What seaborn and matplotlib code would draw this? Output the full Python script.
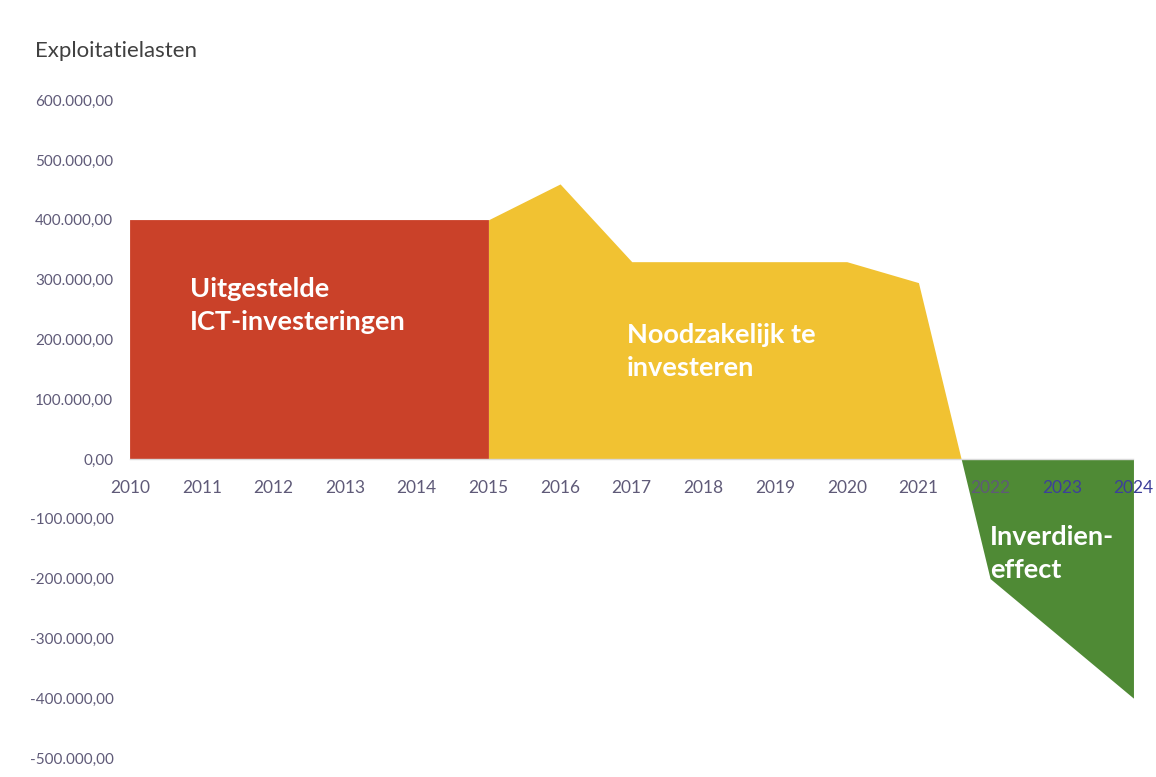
import numpy as np
import seaborn as sns
import matplotlib
import matplotlib.pyplot as plt
from matplotlib.ticker import FuncFormatter, MultipleLocator
matplotlib.use('Agg')

# data
years = [2010, 2011, 2012, 2013, 2014, 2015, 2016, 2017, 2018, 2019, 2020, 2021, 2022, 2023, 2024]
lasten = [400000, 400000, 400000, 400000, 400000, 400000, 460000, 330000, 330000, 330000, 330000, 295000,
          -200000, -300000, -400000]
split_year = 2015
labels = ['Uitgestelde\nICT-investeringen', 'Noodzakelijk te\ninvesteren', 'Inverdien-\neffect']
title = 'Exploitatielasten'

sns.set_theme(style="white")
plt.rcParams['font.family'] = ['Lato', 'DejaVu Sans']

x = np.array(years, dtype=float)
y = np.array(lasten, dtype=float)
k = years.index(split_year)

fig = plt.figure(figsize=(11.56, 7.77), dpi=100)
ax = fig.add_axes([0.1125, 0.0245, 0.868, 0.8465])

red = '#CA4129'
yellow = '#F1C232'
green = '#4F8A35'

# red part up to 2015, yellow from 2015 while positive, green when negative
ax.fill_between(x[k:], y[k:], 0, where=y[k:] >= 0, interpolate=True, color=yellow, lw=0)
ax.fill_between(x[:k + 1], y[:k + 1], 0, facecolor=red, edgecolor=red, lw=0.6)
ax.fill_between(x, y, 0, where=y <= 0, interpolate=True, color=green, lw=0)

ax.set_xlim(2010, 2024)
ax.set_ylim(-500000, 600000)
ax.xaxis.set_major_locator(MultipleLocator(1))
ax.yaxis.set_major_locator(MultipleLocator(100000))

def nl_fmt(v, pos):
    s = f"{v:,.2f}"
    return s.replace(',', 'X').replace('.', ',').replace('X', '.')

ax.yaxis.set_major_formatter(FuncFormatter(nl_fmt))
ax.xaxis.set_major_formatter(FuncFormatter(lambda v, p: f"{int(v)}"))
ax.set_axisbelow(False)

for s in ['top', 'right', 'left']:
    ax.spines[s].set_visible(False)
ax.spines['bottom'].set_position(('data', 0))
ax.spines['bottom'].set_color('#d9d9d9')
ax.spines['bottom'].set_linewidth(1)

tick_col = '#5f5a78'
ax.tick_params(axis='x', colors='#e0e0e0', length=4, width=1, pad=11, labelsize=12.5, labelcolor=tick_col)
ax.tick_params(axis='y', length=0, pad=12, labelsize=11, labelcolor=tick_col)
for lab in ax.get_xticklabels()[-3:]:
    lab.set_color('#3d3f9a')
ax.set_xlabel('')
ax.set_ylabel('')

txt = dict(color='white', fontsize=19.5, fontweight='bold', ha='left', va='center', linespacing=1.45)
ax.text(2010.83, 256000, labels[0], **txt)
ax.text(2016.93, 180000, labels[1], **txt)
ax.text(2022.0, -158000, labels[2], **txt)

fig.text(0.03, 0.935, title, fontsize=16, color='#404040', ha='left', va='center')

fig.savefig('out.png', dpi=100)
